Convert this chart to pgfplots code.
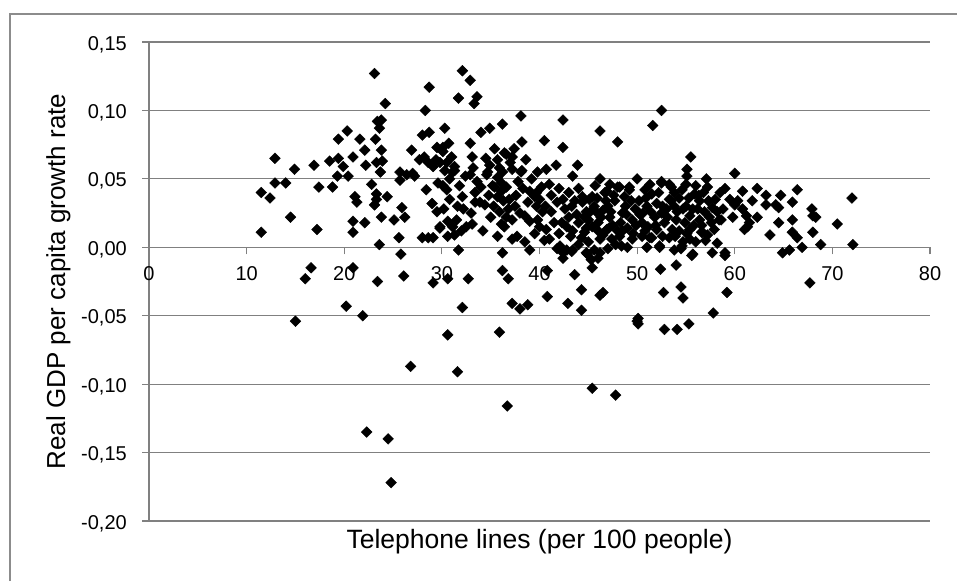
\documentclass[border=0pt]{standalone}
\usepackage{pgfplots}
\pgfplotsset{compat=1.18}
\usepackage{pgfplotstable}
\usepackage{fontspec}
\setmainfont{Liberation Sans}
\definecolor{gridgray}{RGB}{128,128,128}
\definecolor{framegray}{RGB}{140,140,140}

\pgfplotstableread{
x y
11.5 0.040
11.5 0.011
12.4 0.036
12.9 0.065
12.9 0.047
14.0 0.047
14.5 0.022
14.9 0.057
15.0 -0.054
16.0 -0.023
16.6 -0.015
17.2 0.013
16.9 0.060
17.4 0.044
18.5 0.063
18.8 0.044
19.3 0.052
19.4 0.065
19.4 0.079
19.9 0.059
20.2 -0.043
20.3 0.085
20.4 0.052
20.9 0.066
20.9 0.019
20.9 0.011
20.9 -0.015
21.1 0.037
21.3 0.033
21.6 0.079
21.9 -0.050
22.1 0.071
22.1 0.018
22.2 0.060
22.3 -0.135
22.8 0.046
23.1 0.127
23.1 0.031
23.2 0.079
23.3 0.062
23.3 0.039
23.3 0.035
23.4 0.092
23.4 -0.025
23.6 0.087
23.6 0.002
23.7 0.055
23.8 0.093
23.8 0.071
23.8 0.022
23.9 0.063
24.2 0.105
24.4 0.037
24.5 -0.140
24.8 -0.172
25.1 0.020
25.6 0.007
25.7 0.055
25.7 0.049
25.8 -0.005
25.9 0.029
26.1 -0.021
26.2 0.022
26.4 0.053
26.8 -0.087
26.9 0.071
27.0 0.054
27.2 0.052
27.7 0.064
28.0 0.082
28.0 0.007
28.2 0.066
28.3 0.100
28.4 0.042
28.6 0.062
28.6 0.007
28.7 0.117
28.7 0.084
29.0 0.032
29.1 0.059
29.1 0.007
29.1 -0.026
29.4 0.064
29.5 0.073
29.5 0.026
29.6 0.047
29.8 0.014
29.8 0.062
29.8 0.015
30.1 0.073
30.1 0.045
30.1 0.070
30.3 0.087
30.3 0.056
30.5 0.062
30.5 0.042
30.7 0.076
30.6 0.019
30.6 0.008
30.6 -0.023
30.6 -0.064
30.8 0.035
31.0 0.066
31.1 0.055
31.1 0.015
31.3 0.059
31.3 0.056
31.3 0.009
31.6 -0.091
31.7 0.109
31.7 -0.002
32.0 0.012
32.1 0.129
32.1 0.037
32.1 -0.044
32.5 0.015
32.7 -0.023
32.9 0.122
32.9 0.076
32.9 0.053
33.1 0.066
33.1 0.017
33.3 0.105
33.4 0.040
33.4 0.033
33.6 0.110
33.6 0.048
33.9 0.033
34.0 0.084
34.4 0.031
34.6 0.053
34.7 0.055
34.9 0.087
34.9 0.060
35.2 0.045
35.4 0.044
35.7 0.064
35.7 0.051
35.7 0.037
35.7 0.008
35.9 0.026
35.9 -0.062
36.1 0.047
36.1 0.041
36.1 0.017
36.2 0.090
36.2 0.055
36.2 -0.004
36.2 -0.017
36.4 0.069
36.4 0.015
36.6 0.068
36.6 0.044
36.6 0.022
36.7 -0.116
36.8 -0.023
37.0 0.062
37.2 0.066
37.2 0.057
37.2 0.020
37.2 0.006
37.2 -0.041
37.5 0.030
37.7 0.008
38.0 0.025
38.0 -0.045
38.1 0.096
38.1 0.055
38.2 0.077
38.2 0.056
38.5 0.023
38.8 -0.042
39.0 0.041
39.0 0.019
39.0 -0.002
39.5 0.037
39.7 0.040
39.7 0.030
40.0 0.035
40.0 0.015
40.2 0.044
40.3 0.026
40.5 0.078
40.7 0.057
40.7 0.013
40.8 -0.017
40.8 -0.036
41.0 0.046
41.2 0.026
41.7 0.060
41.8 0.033
41.8 -0.001
42.1 0.001
42.3 0.018
42.4 0.093
42.4 0.073
42.4 0.035
42.4 -0.004
42.4 -0.008
42.8 0.015
42.8 -0.002
42.9 -0.041
43.3 0.030
43.3 -0.003
43.4 0.052
43.4 0.012
43.4 -0.002
43.6 -0.020
43.8 0.024
43.9 0.060
44.3 0.007
44.3 -0.031
44.3 -0.046
44.4 0.037
44.4 0.033
44.6 0.011
44.8 0.026
44.8 -0.004
44.9 -0.005
45.1 0.035
45.3 -0.009
45.4 0.037
45.4 0.015
45.4 -0.015
45.4 -0.103
45.8 0.026
46.0 -0.008
46.2 0.085
46.2 0.006
46.2 -0.004
46.2 -0.035
46.5 -0.033
46.7 0.040
46.9 0.041
46.9 0.013
47.2 0.022
47.4 0.006
47.7 0.034
47.8 -0.108
48.0 0.077
48.0 0.044
48.2 0.044
48.2 0.008
48.4 0.001
48.5 0.025
49.2 0.042
49.2 0.044
49.5 0.020
49.5 0.006
50.0 0.050
50.0 -0.054
50.1 -0.052
50.1 -0.056
50.6 0.025
51.1 0.015
51.3 0.007
51.5 0.039
51.5 0.007
51.6 0.089
52.0 0.013
52.3 0.001
52.3 0.000
52.4 -0.016
52.5 0.100
52.5 0.048
52.5 0.047
52.5 0.025
52.7 -0.033
52.8 -0.060
53.3 0.046
53.3 0.035
53.3 0.007
53.5 0.044
53.6 0.013
54.0 0.020
54.0 -0.013
54.1 -0.060
54.5 -0.001
54.5 -0.029
54.6 0.001
54.7 0.028
54.7 0.004
54.7 -0.037
55.0 0.046
55.1 0.057
55.1 0.052
55.3 -0.056
55.4 0.023
55.4 0.013
55.4 0.006
55.5 0.066
55.6 -0.006
55.7 -0.005
55.9 0.039
56.4 0.034
56.4 0.020
56.6 0.011
56.7 0.011
56.9 0.026
57.1 0.050
57.2 0.044
57.7 0.029
57.7 -0.004
57.8 -0.048
57.9 0.013
58.4 0.020
58.6 0.020
59.0 -0.004
59.0 -0.006
59.2 -0.033
59.5 0.035
60.0 0.054
60.0 0.031
60.8 0.041
60.8 0.028
61.0 0.013
61.2 0.023
61.3 0.015
61.5 0.018
61.8 0.034
62.3 0.043
62.3 0.022
63.2 0.038
63.2 0.031
63.6 0.009
64.2 0.031
64.5 0.029
64.5 0.018
64.7 0.038
64.9 -0.004
65.6 -0.002
65.9 0.033
65.9 0.020
65.9 0.011
66.4 0.042
66.4 0.007
66.9 0.000
67.7 -0.026
67.9 0.028
68.0 0.023
68.3 0.022
68.0 0.011
68.8 0.002
70.5 0.017
72.0 0.036
72.1 0.002
45.0 0.020
45.6 0.030
46.0 0.018
46.5 0.027
47.0 0.030
47.5 0.016
48.0 0.012
48.8 0.030
49.0 0.014
49.8 0.028
50.2 0.034
50.5 0.018
51.0 0.030
51.8 0.022
52.0 0.032
52.8 0.018
53.0 0.028
53.8 0.030
54.3 0.012
54.3 0.036
55.0 0.030
55.8 0.016
56.2 0.028
57.4 0.022
58.0 0.035
58.8 0.028
59.8 0.022
60.3 0.034
44.0 0.018
43.0 0.022
42.0 0.010
41.5 0.018
41.0 0.006
44.0 0.002
45.0 0.004
46.5 0.009
47.8 0.002
49.0 0.000
50.5 0.008
51.0 0.000
53.8 -0.002
56.0 0.004
57.0 0.005
58.2 0.003
45.6 -0.002
47.0 -0.001
38.8 0.033
39.5 0.010
38.5 0.004
40.5 0.005
36.9 0.035
34.8 0.038
35.0 0.022
34.2 0.012
33.0 0.025
32.2 0.028
31.6 0.030
31.8 0.045
32.4 0.052
31.5 0.020
30.2 0.028
34.5 0.065
35.4 0.072
30.8 0.050
37.8 0.048
39.2 0.050
38.6 0.064
39.8 0.055
42.0 0.043
43.0 0.040
44.0 0.043
45.7 0.045
46.2 0.050
47.2 0.046
48.7 0.037
50.8 0.042
51.3 0.046
53.8 0.040
56.0 0.045
56.8 0.040
58.5 0.040
59.0 0.043
42.6 0.028
43.6 0.034
44.6 0.022
45.2 0.026
45.9 0.036
46.3 0.022
46.8 0.034
47.3 0.026
47.6 0.038
48.3 0.018
48.9 0.024
49.4 0.034
49.9 0.016
50.3 0.024
50.9 0.036
51.4 0.026
51.9 0.016
52.2 0.040
52.6 0.030
53.1 0.022
53.5 0.034
54.1 0.026
54.6 0.042
54.9 0.018
55.3 0.036
55.7 0.028
56.3 0.038
56.6 0.016
57.3 0.034
57.6 0.018
58.2 0.026
43.2 0.008
44.8 0.014
46.0 0.012
47.1 0.014
48.5 0.012
49.6 0.010
50.8 0.012
52.6 0.008
53.9 0.008
55.1 0.010
57.2 0.009
36.8 0.028
37.6 0.038
38.3 0.043
35.3 0.030
36.3 0.034
34.0 0.044
33.2 0.058
35.9 0.058
37.4 0.072
39.8 0.020
41.2 0.038
40.6 0.030
}\scatterdata

\begin{document}
\begin{tikzpicture}
\path[use as bounding box] (0pt,0pt) rectangle (957pt,-581pt);
\draw[framegray, line width=2pt] (10pt,-581pt) -- (10pt,-14pt) -- (957pt,-14pt);
\begin{axis}[
  at={(149pt,-521pt)}, anchor=south west,
  scale only axis, width=781pt, height=479pt,
  xmin=0, xmax=80, ymin=-0.2, ymax=0.15,
  enlargelimits=false,
  axis x line*=middle, axis y line*=left,
  x axis line style={-, draw=gridgray, line width=1.2pt},
  y axis line style={-, draw=gridgray, line width=1.2pt},
  xtick={0,10,20,30,40,50,60,70,80},
  xticklabels={0,10,20,30,40,50,60,70,80},
  ytick={-0.2,-0.15,-0.1,-0.05,0,0.05,0.1,0.15},
  yticklabels={{-0,20},{-0,15},{-0,10},{-0,05},{0,00},{0,05},{0,10},{0,15}},
  ymajorgrids,
  grid style={gridgray, line width=1.2pt},
  tick align=outside,
  major tick length=7pt,
  tick style={gridgray, line width=1.2pt},
  hide obscured x ticks=false, hide obscured y ticks=false,
  /pgf/number format/assume math mode=true,
  ticklabel style={font=\fontsize{20}{22}\selectfont},
  yticklabel style={anchor=east, inner sep=0pt, text height=14pt, text depth=0pt, xshift=-15pt, yshift=-1pt},
  xticklabel style={anchor=north, inner sep=0pt, text height=14pt, text depth=0pt, yshift=-12pt},
  xlabel={Telephone lines (per 100 people)},
  ylabel={Real GDP per capita growth rate},
  every axis x label/.style={at={(axis description cs:0.5,0)}, anchor=base, yshift=-27pt, font=\fontsize{26.5}{30}\selectfont},
  every axis y label/.style={at={(axis description cs:0,0.5)}, xshift=-84pt, anchor=base, rotate=90, font=\fontsize{26}{30}\selectfont},
]
\addplot[only marks, mark=square*, mark size=3.8pt, mark options={rotate=45, fill=black, draw=black}] table[x=x, y=y] {\scatterdata};
\end{axis}
\end{tikzpicture}
\end{document}
